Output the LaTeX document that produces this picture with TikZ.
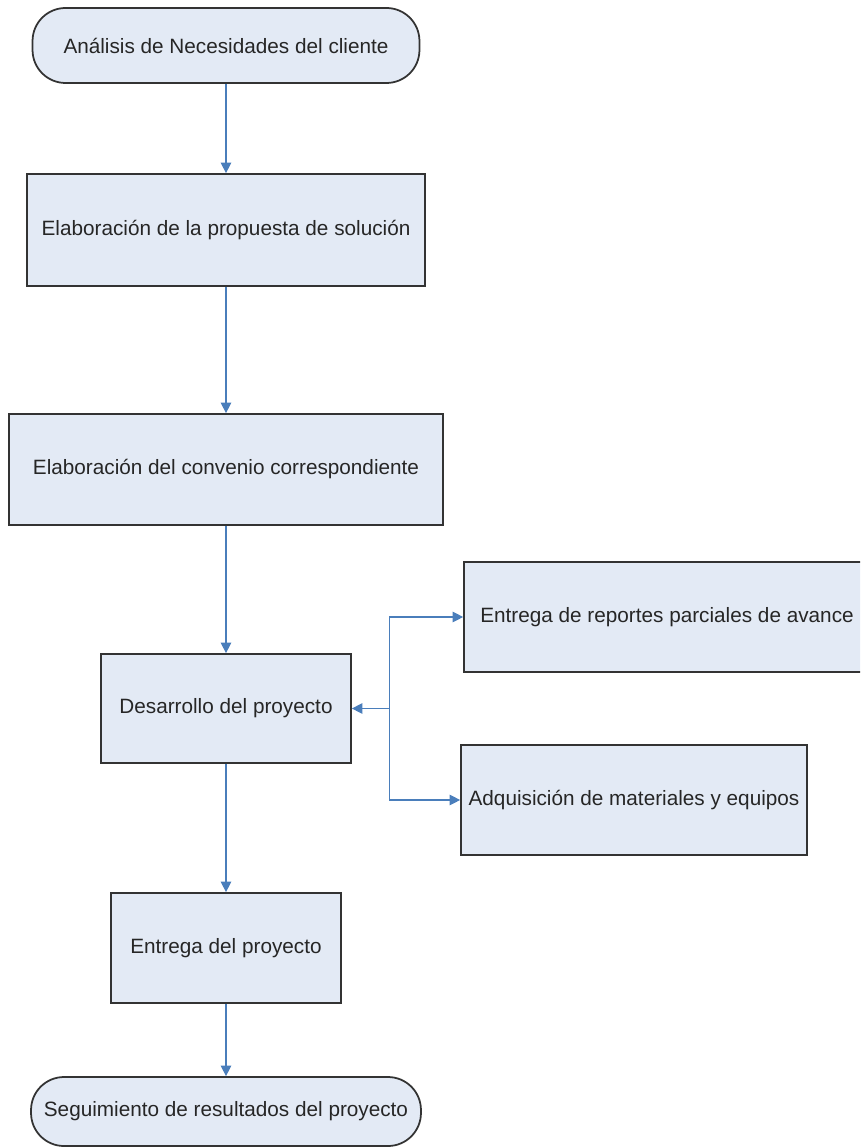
\documentclass[tikz,border=0pt]{standalone}
\usepackage{fontspec}
\setmainfont{Liberation Sans}
\usetikzlibrary{arrows.meta, calc}
\definecolor{boxfill}{HTML}{E3EAF5}
\definecolor{boxline}{HTML}{333333}
\definecolor{flowblue}{HTML}{4A7EBB}
\definecolor{textgray}{HTML}{262626}
\tikzset{
    my-terminal/.style={
        rectangle, draw=boxline, fill=boxfill, line width=1pt, rounded corners=0.66cm,
        inner sep=0pt, text=textgray, font=\fontsize{11.8}{14}\selectfont
    },
    my-process/.style={
        rectangle, draw=boxline, fill=boxfill, line width=1pt,
        inner sep=0pt, text=textgray, font=\fontsize{11.8}{14}\selectfont
    },
    my-arrow/.style={
        draw=flowblue, line width=0.7pt, -{Triangle[length=6pt, width=6pt]}
    },
}

\begin{document}
\begin{tikzpicture}[x=0.02cm, y=-0.02cm]

        % PAGE
        \useasboundingbox (0,0) rectangle (860,1148);
        \clip (0,0) rectangle (860,1148);

        % MAIN COLUMN
        \node[my-terminal, minimum width=7.74cm, minimum height=1.5cm]  (INICIO)  at (226,45.5)   {Análisis de Necesidades del cliente};
        \node[my-process,  minimum width=7.96cm, minimum height=2.24cm] (PROP)    at (226,230)    {Elaboración de la propuesta de solución};
        \node[my-process,  minimum width=8.68cm, minimum height=2.22cm] (CONV)    at (226,469.5)  {Elaboración del convenio correspondiente};
        \node[my-process,  minimum width=5cm,    minimum height=2.18cm] (DESA)    at (226,708.5)  {Desarrollo del proyecto};
        \node[my-process,  minimum width=4.6cm,  minimum height=2.2cm]  (ENTR)    at (226,948)    {Entrega del proyecto};
        \node[my-terminal, minimum width=7.8cm,  minimum height=1.38cm] (SEGU)    at (226,1111.5) {Seguimiento de resultados del proyecto};

        % SIDE BOXES
        \node[my-process,  minimum width=8.36cm, minimum height=2.2cm]  (REPO)    at (673,617)    {\hspace{-0.24cm}Entrega de reportes parciales de avance};
        \node[my-process,  minimum width=6.92cm, minimum height=2.2cm]  (ADQU)    at (634,800)    {Adquisición de materiales y equipos};

        % BRANCH POINT
        \coordinate[] (BRANCH) at ($(DESA.east) + (38,0)$);

        % MAIN CONNECTIONS
        \draw[my-arrow] (INICIO) -- (PROP);
        \draw[my-arrow] (PROP)   -- (CONV);
        \draw[my-arrow] (CONV)   -- (DESA);
        \draw[my-arrow] (DESA)   -- (ENTR);
        \draw[my-arrow] (ENTR)   -- (SEGU);

        % SIDE CONNECTIONS
        \draw[my-arrow] (BRANCH) -- (DESA.east);
        \draw[my-arrow] (BRANCH) |- (REPO.west);
        \draw[my-arrow] (BRANCH) |- (ADQU.west);

\end{tikzpicture}
\end{document}
